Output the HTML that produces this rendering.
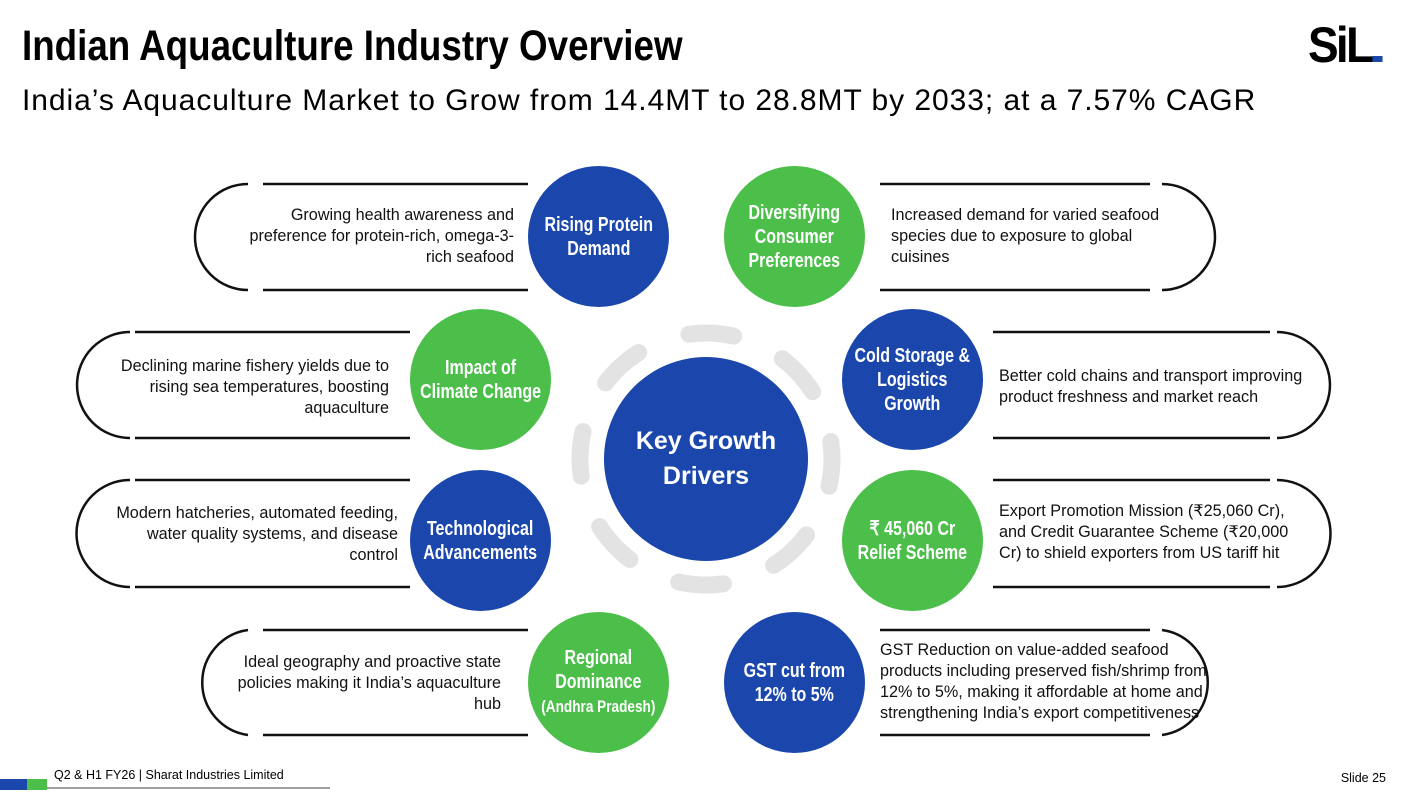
<!DOCTYPE html>
<html><head><meta charset="utf-8"><style>
body{margin:0;width:1408px;height:794px;background:#fff;position:relative;overflow:hidden;font-family:"Liberation Sans",sans-serif}
.t{position:absolute;font-size:16.2px;line-height:21px;color:#111;white-space:nowrap}
.r{text-align:right}
.c{position:absolute;border-radius:50%;display:flex;align-items:center;justify-content:center;text-align:center;color:#fff;font-weight:bold;font-size:20px;line-height:24px}
.c>div{transform:scaleX(0.8);white-space:nowrap}
.b{background:#1b47ac}.g{background:#4cbf4a}
</style></head><body>
<div style="position:absolute;left:22px;top:22px;font-weight:bold;font-size:43px;transform:scaleX(0.855);transform-origin:0 0;white-space:nowrap">Indian Aquaculture Industry Overview</div>
<div style="position:absolute;left:22px;top:84px;font-size:30px;letter-spacing:0.95px;white-space:nowrap">India’s Aquaculture Market to Grow from 14.4MT to 28.8MT by 2033; at a 7.57% CAGR</div>
<div style="position:absolute;left:1308px;top:20px;font-weight:bold;font-size:50px;letter-spacing:-3px;line-height:50px;transform:scaleX(0.92);transform-origin:0 0">S<span>iL</span><span style="display:inline-block;width:11px;height:6px;background:#1b47ac;margin-left:1px"></span></div>
<svg width="1408" height="794" style="position:absolute;left:0;top:0" fill="none">
<g stroke="#111" stroke-width="2.5">
<path d="M263 184H528M263 290H528M248 184A53 53 0 0 0 248 290"/>
<path d="M880 184H1150M880 290H1150M1162 184A53 53 0 0 1 1162 290"/>
<path d="M135 332H410M135 438H410M130 332A53 53 0 0 0 130 438"/>
<path d="M993 332H1270M993 438H1270M1277 332A53 53 0 0 1 1277 438"/>
<path d="M135 480H410M135 587H410M130 480A53 53 0 0 0 130 587"/>
<path d="M993 480H1270M993 587H1270M1277 480A53 53 0 0 1 1277 587"/>
<path d="M263 630H528M263 735H528M248 630A53 53 0 0 0 248 735"/>
<path d="M880 630H1150M880 735H1150M1162 630A53 53 0 0 1 1162 735"/>
</g>
<circle cx="706" cy="459" r="126" stroke="#e3e3e3" stroke-width="17" stroke-linecap="round" stroke-dasharray="45 54" transform="rotate(-8 706 459)"/>
<rect x="0" y="779" width="27" height="11" fill="#1b47ac"/><rect x="27" y="779" width="20" height="11" fill="#4cbf4a"/>
<line x1="47" y1="788" x2="330" y2="788" stroke="#666" stroke-width="1.2"/>
</svg>
<div class="c b" style="left:604px;top:357px;width:204px;height:204px;font-size:25px;line-height:35px"><div style="transform:none">Key Growth<br>Drivers</div></div>
<div class="c b" style="left:528px;top:166px;width:141px;height:141px"><div>Rising Protein<br>Demand</div></div>
<div class="c g" style="left:724px;top:166px;width:141px;height:141px"><div>Diversifying<br>Consumer<br>Preferences</div></div>
<div class="c g" style="left:410px;top:309px;width:141px;height:141px"><div>Impact of<br>Climate Change</div></div>
<div class="c b" style="left:842px;top:309px;width:141px;height:141px"><div>Cold Storage &amp;<br>Logistics<br>Growth</div></div>
<div class="c b" style="left:410px;top:470px;width:141px;height:141px"><div>Technological<br>Advancements</div></div>
<div class="c g" style="left:842px;top:470px;width:141px;height:141px"><div>₹ 45,060 Cr<br>Relief Scheme</div></div>
<div class="c g" style="left:528px;top:612px;width:141px;height:141px"><div>Regional<br>Dominance<br><span style="font-size:17px">(Andhra Pradesh)</span></div></div>
<div class="c b" style="left:724px;top:612px;width:141px;height:141px"><div>GST cut from<br>12% to 5%</div></div>
<div class="t r" style="right:894px;top:205px">Growing health awareness and<br>preference for protein-rich, omega-3-<br>rich seafood</div>
<div class="t" style="left:891px;top:205px">Increased demand for varied seafood<br>species due to exposure to global<br>cuisines</div>
<div class="t r" style="right:1019px;top:356px">Declining marine fishery yields due to<br>rising sea temperatures, boosting<br>aquaculture</div>
<div class="t" style="left:999px;top:366px">Better cold chains and transport improving<br>product freshness and market reach</div>
<div class="t r" style="right:1010px;top:503px">Modern hatcheries, automated feeding,<br>water quality systems, and disease<br>control</div>
<div class="t" style="left:999px;top:501px">Export Promotion Mission (₹25,060 Cr),<br>and Credit Guarantee Scheme (₹20,000<br>Cr) to shield exporters from US tariff hit</div>
<div class="t r" style="right:907px;top:652px">Ideal geography and proactive state<br>policies making it India’s aquaculture<br>hub</div>
<div class="t" style="left:880px;top:640px">GST Reduction on value-added seafood<br>products including preserved fish/shrimp from<br>12% to 5%, making it affordable at home and<br>strengthening India’s export competitiveness</div>
<div style="position:absolute;left:54px;top:768px;font-size:12.5px">Q2 &amp; H1 FY26 | Sharat Industries Limited</div>
<div style="position:absolute;right:22px;top:771px;font-size:12.5px">Slide 25</div>
</body></html>
